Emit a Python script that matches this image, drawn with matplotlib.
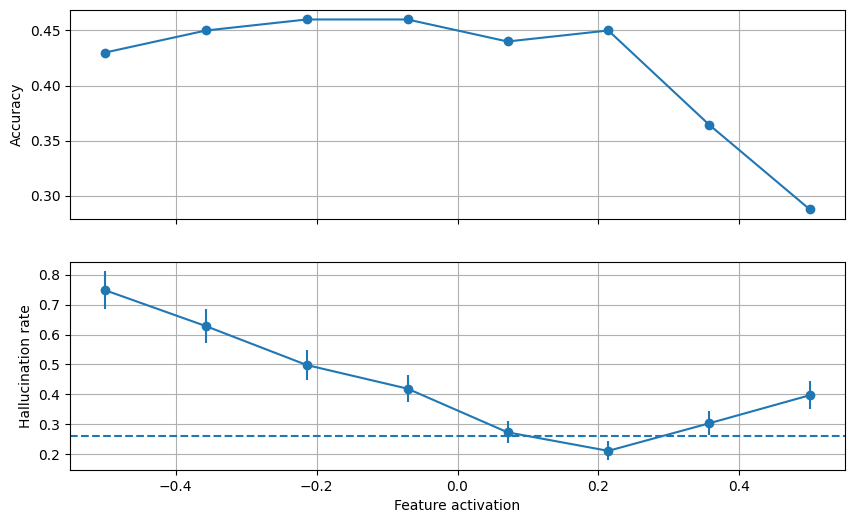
import matplotlib
matplotlib.use("Agg")
import matplotlib.pyplot as plt

# feature activation values
activation = [-0.5, -0.357, -0.214, -0.071, 0.071, 0.214, 0.357, 0.5]

# top panel
accuracy = [0.43, 0.45, 0.46, 0.46, 0.44, 0.45, 0.3645, 0.2875]

# bottom panel
halluc_rate = [0.748, 0.628, 0.498, 0.419, 0.273, 0.211, 0.303, 0.397]
halluc_err = [0.063, 0.056, 0.051, 0.045, 0.037, 0.032, 0.040, 0.046]
baseline = 0.261

fig = plt.figure(figsize=(8.54, 5.25), dpi=100)
ax1 = fig.add_axes([0.082, 0.583, 0.9075, 0.398])
ax2 = fig.add_axes([0.082, 0.105, 0.9075, 0.396], sharex=ax1)

ax1.plot(activation, accuracy, '-o')
ax1.set_ylabel('Accuracy')
ax1.grid(True)
plt.setp(ax1.get_xticklabels(), visible=False)

ax2.errorbar(activation, halluc_rate, yerr=halluc_err, fmt='-o')
ax2.axhline(baseline, linestyle='--')
ax2.set_ylabel('Hallucination rate')
ax2.set_xlabel('Feature activation')
ax2.grid(True)

fig.savefig('out.png', dpi=100)
